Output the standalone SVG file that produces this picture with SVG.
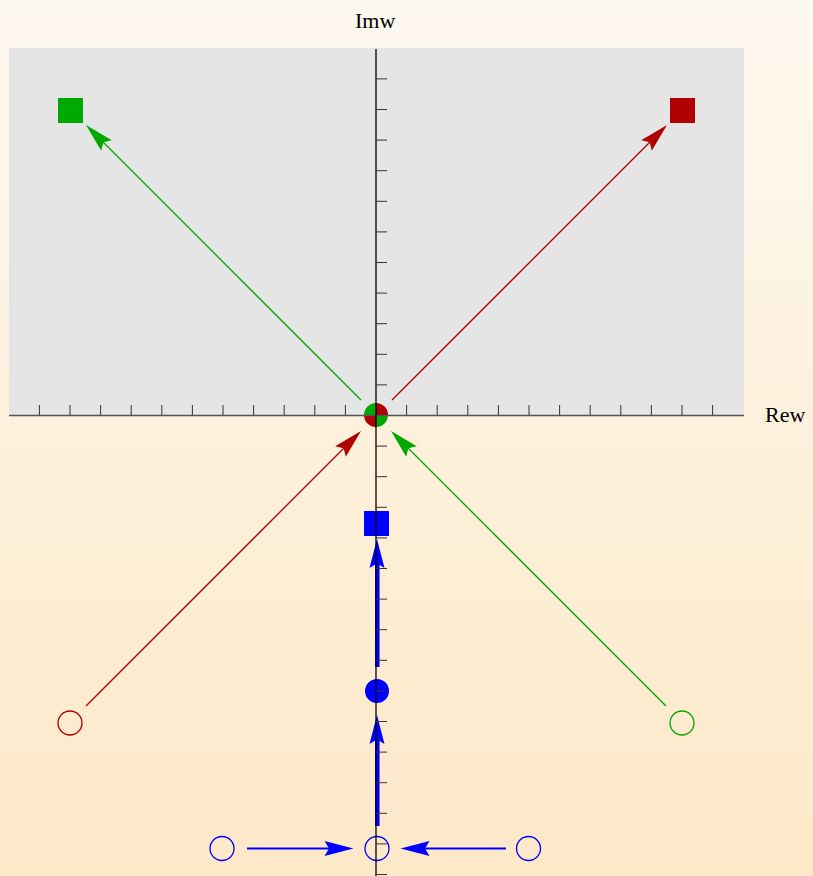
<svg xmlns="http://www.w3.org/2000/svg" width="813" height="876" viewBox="0 0 813 876">
<defs>
<linearGradient id="bg" x1="0" y1="0" x2="0" y2="1">
<stop offset="0" stop-color="#fef9f0"/>
<stop offset="1" stop-color="#fde8c8"/>
</linearGradient>
<path id="ah" d="M0,0 L-29,-7.5 L-24.5,0 L-29,7.5 Z"/>
<style>
.lbl{font-family:"Liberation Serif","Times New Roman",serif;font-size:22px;fill:#000}
.tk{stroke:#333;stroke-width:1}
.g{fill:#00a800}
.r{fill:#b00000}
.b{fill:#0000ff}
</style>
</defs>
<rect x="0" y="0" width="813" height="876" fill="url(#bg)"/>
<rect x="9" y="48" width="735" height="367" fill="#e5e5e5"/>
<g id="connectors">
<line x1="361" y1="400" x2="103" y2="142" stroke="#00a800" stroke-width="1.3"/>
<use href="#ah" class="g" transform="translate(86,125) rotate(225)"/>
<line x1="392" y1="400" x2="650" y2="142" stroke="#b00000" stroke-width="1.3"/>
<use href="#ah" class="r" transform="translate(667,125) rotate(-45)"/>
<line x1="86" y1="706" x2="344" y2="448" stroke="#b00000" stroke-width="1.3"/>
<use href="#ah" class="r" transform="translate(361,431) rotate(-45)"/>
<line x1="666" y1="706" x2="408" y2="448" stroke="#00a800" stroke-width="1.3"/>
<use href="#ah" class="g" transform="translate(391,431) rotate(225)"/>
<line x1="377.3" y1="667" x2="377.3" y2="563" stroke="#0000ff" stroke-width="4.5"/>
<use href="#ah" class="b" transform="translate(377,539) rotate(-90)"/>
<line x1="377.3" y1="826" x2="377.3" y2="739" stroke="#0000ff" stroke-width="4.5"/>
<use href="#ah" class="b" transform="translate(377,715) rotate(-90)"/>
<line x1="247" y1="848.5" x2="330" y2="848.5" stroke="#0000ff" stroke-width="1.8"/>
<use href="#ah" class="b" transform="translate(353.5,848.5) rotate(0)"/>
<line x1="506" y1="848.5" x2="424" y2="848.5" stroke="#0000ff" stroke-width="1.8"/>
<use href="#ah" class="b" transform="translate(400.5,848.5) rotate(180)"/>
</g>
<g id="node-green-square"><rect x="58" y="98" width="25" height="25" fill="#00a800"/></g>
<g id="node-red-square"><rect x="670" y="98" width="25" height="25" fill="#b00000"/></g>
<g id="node-origin">
<path d="M376,415 L364,415 A12,12 0 0 1 376,403 Z" fill="#00a800"/>
<path d="M376,415 L376,403 A12,12 0 0 1 388,415 Z" fill="#b00000"/>
<path d="M376,415 L388,415 A12,12 0 0 1 376,427 Z" fill="#00a800"/>
<path d="M376,415 L376,427 A12,12 0 0 1 364,415 Z" fill="#b00000"/>
</g>
<g id="node-blue-square"><rect x="364" y="511" width="25" height="25" fill="#0000ff"/></g>
<g id="node-blue-dot"><circle cx="377" cy="691" r="12" fill="#0000ff"/></g>
<g id="node-red-circle"><circle cx="70" cy="723" r="12" fill="none" stroke="#b00000" stroke-width="1.3"/></g>
<g id="node-green-circle"><circle cx="682" cy="723" r="12" fill="none" stroke="#00a800" stroke-width="1.3"/></g>
<g id="node-blue-left"><circle cx="222" cy="848.5" r="12" fill="none" stroke="#0000ff" stroke-width="1.3"/></g>
<g id="node-blue-mid"><circle cx="377" cy="848.5" r="12" fill="none" stroke="#0000ff" stroke-width="1.3"/></g>
<g id="node-blue-right"><circle cx="528.5" cy="848.5" r="12" fill="none" stroke="#0000ff" stroke-width="1.3"/></g>
<g id="axes">
<line x1="9" y1="415.5" x2="744" y2="415.5" stroke="#555" stroke-width="1.5"/>
<line x1="376" y1="49" x2="376" y2="876" stroke="#000" stroke-width="1.3"/>
<path class="tk" fill="none" d="M39.4,405V415 M70,405V415 M100.6,405V415 M131.2,405V415 M161.8,405V415 M192.4,405V415 M223,405V415 M253.6,405V415 M284.2,405V415 M314.8,405V415 M345.4,405V415 M406.6,405V415 M437.2,405V415 M467.8,405V415 M498.4,405V415 M529,405V415 M559.6,405V415 M590.2,405V415 M620.8,405V415 M651.4,405V415 M682,405V415 M712.6,405V415"/>
<path class="tk" fill="none" d="M376,78.9H387 M376,109.5H387 M376,140.1H387 M376,170.7H387 M376,201.3H387 M376,231.9H387 M376,262.5H387 M376,293.1H387 M376,323.7H387 M376,354.3H387 M376,384.9H387 M376,446.1H387 M376,476.7H387 M376,507.3H387 M376,537.9H387 M376,568.5H387 M376,599.1H387 M376,629.7H387 M376,660.3H387 M376,690.9H387 M376,721.5H387 M376,752.1H387 M376,782.7H387 M376,813.3H387 M376,843.9H387 M376,874.5H387"/>
</g>
<text class="lbl" x="355" y="28">Imw</text>
<text class="lbl" x="765" y="422">Rew</text>
</svg>
